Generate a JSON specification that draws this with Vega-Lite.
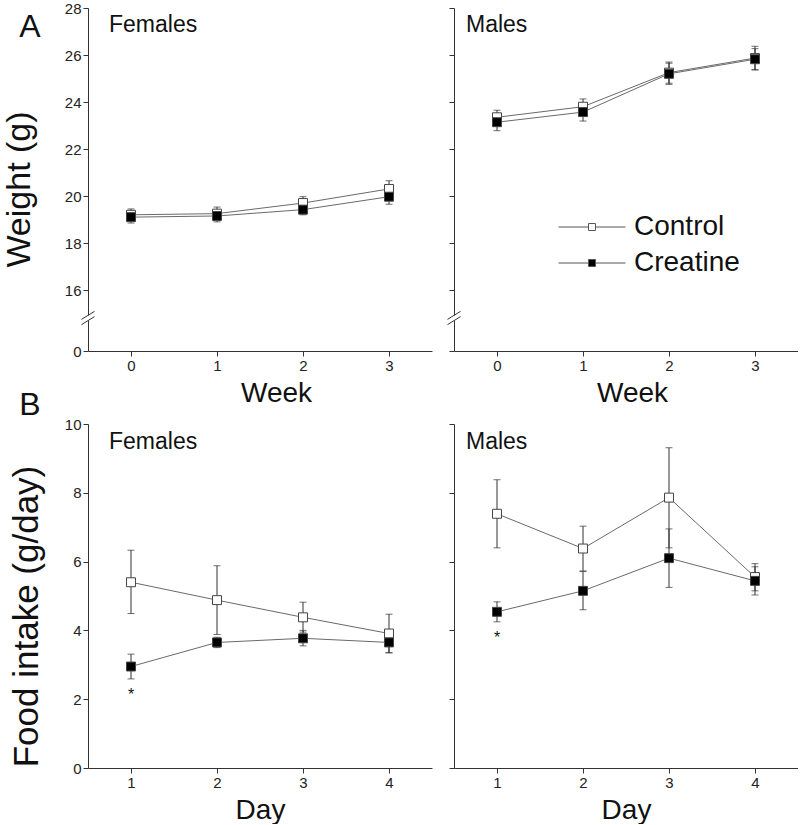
{
  "$schema": "https://vega.github.io/schema/vega-lite/v6.json",
  "padding": {"left": 2, "top": 1, "right": 0, "bottom": 0},
  "datasets": {
    "w": [
      {"sex": "Females", "group": "Control", "t": 0, "m": 19.2, "lo": 18.95, "hi": 19.45},
      {"sex": "Females", "group": "Control", "t": 1, "m": 19.25, "lo": 18.97, "hi": 19.53},
      {"sex": "Females", "group": "Control", "t": 2, "m": 19.7, "lo": 19.43, "hi": 19.97},
      {"sex": "Females", "group": "Control", "t": 3, "m": 20.3, "lo": 19.95, "hi": 20.65},
      {"sex": "Females", "group": "Creatine", "t": 0, "m": 19.1, "lo": 18.85, "hi": 19.35},
      {"sex": "Females", "group": "Creatine", "t": 1, "m": 19.15, "lo": 18.9, "hi": 19.4},
      {"sex": "Females", "group": "Creatine", "t": 2, "m": 19.42, "lo": 19.2, "hi": 19.64},
      {"sex": "Females", "group": "Creatine", "t": 3, "m": 19.97, "lo": 19.65, "hi": 20.29},
      {"sex": "Males", "group": "Control", "t": 0, "m": 23.35, "lo": 23.05, "hi": 23.65},
      {"sex": "Males", "group": "Control", "t": 1, "m": 23.8, "lo": 23.47, "hi": 24.13},
      {"sex": "Males", "group": "Control", "t": 2, "m": 25.25, "lo": 24.8, "hi": 25.7},
      {"sex": "Males", "group": "Control", "t": 3, "m": 25.87, "lo": 25.37, "hi": 26.37},
      {"sex": "Males", "group": "Creatine", "t": 0, "m": 23.14, "lo": 22.78, "hi": 23.5},
      {"sex": "Males", "group": "Creatine", "t": 1, "m": 23.57, "lo": 23.19, "hi": 23.95},
      {"sex": "Males", "group": "Creatine", "t": 2, "m": 25.2, "lo": 24.75, "hi": 25.65},
      {"sex": "Males", "group": "Creatine", "t": 3, "m": 25.82, "lo": 25.37, "hi": 26.27}
    ],
    "f": [
      {"sex": "Females", "group": "Control", "t": 1, "m": 5.4, "lo": 4.49, "hi": 6.33},
      {"sex": "Females", "group": "Control", "t": 2, "m": 4.88, "lo": 3.88, "hi": 5.88},
      {"sex": "Females", "group": "Control", "t": 3, "m": 4.38, "lo": 3.95, "hi": 4.82},
      {"sex": "Females", "group": "Control", "t": 4, "m": 3.91, "lo": 3.35, "hi": 4.47},
      {"sex": "Females", "group": "Creatine", "t": 1, "m": 2.95, "lo": 2.59, "hi": 3.31},
      {"sex": "Females", "group": "Creatine", "t": 2, "m": 3.65, "lo": 3.5, "hi": 3.8},
      {"sex": "Females", "group": "Creatine", "t": 3, "m": 3.77, "lo": 3.55, "hi": 4.0},
      {"sex": "Females", "group": "Creatine", "t": 4, "m": 3.65, "lo": 3.35, "hi": 3.85},
      {"sex": "Males", "group": "Control", "t": 1, "m": 7.39, "lo": 6.4, "hi": 8.38},
      {"sex": "Males", "group": "Control", "t": 2, "m": 6.38, "lo": 5.73, "hi": 7.03},
      {"sex": "Males", "group": "Control", "t": 3, "m": 7.86, "lo": 6.4, "hi": 9.31},
      {"sex": "Males", "group": "Control", "t": 4, "m": 5.55, "lo": 5.15, "hi": 5.94},
      {"sex": "Males", "group": "Creatine", "t": 1, "m": 4.54, "lo": 4.25, "hi": 4.83},
      {"sex": "Males", "group": "Creatine", "t": 2, "m": 5.15, "lo": 4.6, "hi": 5.71},
      {"sex": "Males", "group": "Creatine", "t": 3, "m": 6.1, "lo": 5.25, "hi": 6.95},
      {"sex": "Males", "group": "Creatine", "t": 4, "m": 5.44, "lo": 5.03, "hi": 5.85}
    ],
    "stars": [
      {"sex": "Females", "t": 1, "y": 1.97, "label": "*"},
      {"sex": "Males", "t": 1, "y": 3.62, "label": "*"}
    ]
  },
  "columns": 2,
  "spacing": {"row": 73, "column": 22},
  "bounds": "flush",
  "concat": [
    {
      "width": 344, "height": 343,
      "layer": [
        {"data": {"name": "w"}, "transform": [{"filter": "datum.sex === 'Females'"}],
         "mark": {"type": "line", "color": "#6a6a6a", "strokeWidth": 1},
         "encoding": {
           "x": {"field": "t", "type": "quantitative", "title": "Week", "scale": {"domain": [-0.5, 3.5], "nice": false, "zero": false},
                 "axis": {"values": [0, 1, 2, 3], "format": "d", "titleFontSize": 28, "titleX": 188, "titlePadding": 6}},
           "y": {"field": "m", "type": "quantitative", "title": "Weight (g)", "scale": {"domain": [0, 15, 28], "range": [343, 305.5, 0], "nice": false, "zero": false},
                 "axis": {"values": [0, 16, 18, 20, 22, 24, 26, 28], "titleFontSize": 34, "titlePadding": 28, "titleY": 181}},
           "detail": {"field": "group"}}},
        {"data": {"name": "w"}, "transform": [{"filter": "datum.sex === 'Females'"}],
         "mark": {"type": "errorbar", "ticks": {"size": 7}, "color": "#333", "thickness": 1},
         "encoding": {
           "x": {"field": "t", "type": "quantitative", "title": "Week"},
           "y": {"field": "lo", "type": "quantitative", "title": "Weight (g)"},
           "y2": {"field": "hi"}}},
        {"data": {"name": "w"}, "transform": [{"filter": "datum.sex === 'Females'"}],
         "mark": {"type": "point", "shape": "square", "size": 80, "filled": true, "opacity": 1, "stroke": "#444", "strokeWidth": 1},
         "encoding": {
           "x": {"field": "t", "type": "quantitative", "title": "Week"},
           "y": {"field": "m", "type": "quantitative", "title": "Weight (g)"},
           "fill": {"field": "group", "type": "nominal", "scale": {"domain": ["Control", "Creatine"], "range": ["white", "black"]}}}},
        {"data": {"values": [{}]},
         "mark": {"type": "point", "shape": "square", "size": 25, "filled": true, "color": "white", "opacity": 1, "strokeWidth": 0},
         "encoding": {"x": {"datum": -0.5, "type": "quantitative"}, "y": {"datum": 13.2, "type": "quantitative"}}},
        {"data": {"values": [{}]},
         "mark": {"type": "point", "shape": "M-0.93,0.2L0.93,-0.95M-0.93,0.95L0.93,-0.2", "size": 196, "filled": false, "stroke": "#333", "strokeWidth": 1, "opacity": 1},
         "encoding": {"x": {"datum": -0.5, "type": "quantitative"}, "y": {"datum": 13.2, "type": "quantitative"}}},
        {"data": {"values": [{}]},
         "mark": {"type": "text", "text": "Females", "fontSize": 23, "align": "left", "baseline": "middle", "dx": 21, "dy": 17, "color": "#111"},
         "encoding": {"x": {"datum": -0.5, "type": "quantitative"}, "y": {"datum": 28, "type": "quantitative"}}},
        {"data": {"values": [{}]},
         "mark": {"type": "text", "text": "A", "fontSize": 32, "align": "center", "baseline": "middle", "dx": -58, "dy": 19, "color": "#111"},
         "encoding": {"x": {"datum": -0.5, "type": "quantitative"}, "y": {"datum": 28, "type": "quantitative"}}}
      ]
    },
    {
      "width": 344, "height": 343,
      "layer": [
        {"data": {"name": "w"}, "transform": [{"filter": "datum.sex === 'Males'"}],
         "mark": {"type": "line", "color": "#6a6a6a", "strokeWidth": 1},
         "encoding": {
           "x": {"field": "t", "type": "quantitative", "title": "Week", "scale": {"domain": [-0.5, 3.5], "nice": false, "zero": false},
                 "axis": {"values": [0, 1, 2, 3], "format": "d", "titleFontSize": 28, "titleX": 178, "titlePadding": 6}},
           "y": {"field": "m", "type": "quantitative", "title": null, "scale": {"domain": [0, 15, 28], "range": [343, 305.5, 0], "nice": false, "zero": false},
                 "axis": {"values": [0, 16, 18, 20, 22, 24, 26, 28], "labels": false}},
           "detail": {"field": "group"}}},
        {"data": {"name": "w"}, "transform": [{"filter": "datum.sex === 'Males'"}],
         "mark": {"type": "errorbar", "ticks": {"size": 7}, "color": "#333", "thickness": 1},
         "encoding": {
           "x": {"field": "t", "type": "quantitative", "title": "Week"},
           "y": {"field": "lo", "type": "quantitative", "title": null},
           "y2": {"field": "hi"}}},
        {"data": {"name": "w"}, "transform": [{"filter": "datum.sex === 'Males'"}],
         "mark": {"type": "point", "shape": "square", "size": 80, "filled": true, "opacity": 1, "stroke": "#444", "strokeWidth": 1},
         "encoding": {
           "x": {"field": "t", "type": "quantitative", "title": "Week"},
           "y": {"field": "m", "type": "quantitative", "title": null},
           "fill": {"field": "group", "type": "nominal", "scale": {"domain": ["Control", "Creatine"], "range": ["white", "black"]}}}},
        {"data": {"values": [{}]},
         "mark": {"type": "point", "shape": "square", "size": 25, "filled": true, "color": "white", "opacity": 1, "strokeWidth": 0},
         "encoding": {"x": {"datum": -0.5, "type": "quantitative"}, "y": {"datum": 13.2, "type": "quantitative"}}},
        {"data": {"values": [{}]},
         "mark": {"type": "point", "shape": "M-0.93,0.2L0.93,-0.95M-0.93,0.95L0.93,-0.2", "size": 196, "filled": false, "stroke": "#333", "strokeWidth": 1, "opacity": 1},
         "encoding": {"x": {"datum": -0.5, "type": "quantitative"}, "y": {"datum": 13.2, "type": "quantitative"}}},
        {"data": {"values": [{}]},
         "mark": {"type": "text", "text": "Males", "fontSize": 23, "align": "left", "baseline": "middle", "dx": 12, "dy": 17, "color": "#111"},
         "encoding": {"x": {"datum": -0.5, "type": "quantitative"}, "y": {"datum": 28, "type": "quantitative"}}}
      ]
    },
    {
      "width": 344, "height": 344,
      "layer": [
        {"data": {"name": "f"}, "transform": [{"filter": "datum.sex === 'Females'"}],
         "mark": {"type": "line", "color": "#6a6a6a", "strokeWidth": 1},
         "encoding": {
           "x": {"field": "t", "type": "quantitative", "title": "Day", "scale": {"domain": [0.5, 4.5], "nice": false, "zero": false},
                 "axis": {"values": [1, 2, 3, 4], "format": "d", "titleFontSize": 28, "titlePadding": 6}},
           "y": {"field": "m", "type": "quantitative", "title": "Food intake (g/day)", "scale": {"domain": [0, 10], "nice": false, "zero": false},
                 "axis": {"values": [0, 2, 4, 6, 8, 10], "format": "d", "titleFontSize": 35, "titlePadding": 20, "titleY": 192}},
           "detail": {"field": "group"}}},
        {"data": {"name": "f"}, "transform": [{"filter": "datum.sex === 'Females'"}],
         "mark": {"type": "errorbar", "ticks": {"size": 7}, "color": "#333", "thickness": 1},
         "encoding": {
           "x": {"field": "t", "type": "quantitative", "title": "Day"},
           "y": {"field": "lo", "type": "quantitative", "title": "Food intake (g/day)"},
           "y2": {"field": "hi"}}},
        {"data": {"name": "f"}, "transform": [{"filter": "datum.sex === 'Females'"}],
         "mark": {"type": "point", "shape": "square", "size": 80, "filled": true, "opacity": 1, "stroke": "#444", "strokeWidth": 1},
         "encoding": {
           "x": {"field": "t", "type": "quantitative", "title": "Day"},
           "y": {"field": "m", "type": "quantitative", "title": "Food intake (g/day)"},
           "fill": {"field": "group", "type": "nominal", "scale": {"domain": ["Control", "Creatine"], "range": ["white", "black"]}}}},
        {"data": {"name": "stars"}, "transform": [{"filter": "datum.sex === 'Females'"}],
         "mark": {"type": "text", "fontSize": 16, "align": "center", "baseline": "alphabetic", "color": "#111"},
         "encoding": {"x": {"field": "t", "type": "quantitative", "title": "Day"}, "y": {"field": "y", "type": "quantitative", "title": "Food intake (g/day)"}, "text": {"field": "label"}}},
        {"data": {"values": [{}]},
         "mark": {"type": "text", "text": "Females", "fontSize": 23, "align": "left", "baseline": "middle", "dx": 21, "dy": 18, "color": "#111"},
         "encoding": {"x": {"datum": 0.5, "type": "quantitative"}, "y": {"datum": 10, "type": "quantitative"}}},
        {"data": {"values": [{}]},
         "mark": {"type": "text", "text": "B", "fontSize": 32, "align": "center", "baseline": "middle", "dx": -58, "dy": -19, "color": "#111"},
         "encoding": {"x": {"datum": 0.5, "type": "quantitative"}, "y": {"datum": 10, "type": "quantitative"}}}
      ]
    },
    {
      "width": 344, "height": 344,
      "layer": [
        {"data": {"name": "f"}, "transform": [{"filter": "datum.sex === 'Males'"}],
         "mark": {"type": "line", "color": "#6a6a6a", "strokeWidth": 1},
         "encoding": {
           "x": {"field": "t", "type": "quantitative", "title": "Day", "scale": {"domain": [0.5, 4.5], "nice": false, "zero": false},
                 "axis": {"values": [1, 2, 3, 4], "format": "d", "titleFontSize": 28, "titlePadding": 6}},
           "y": {"field": "m", "type": "quantitative", "title": null, "scale": {"domain": [0, 10], "nice": false, "zero": false},
                 "axis": {"values": [0, 2, 4, 6, 8, 10], "labels": false}},
           "detail": {"field": "group"}}},
        {"data": {"name": "f"}, "transform": [{"filter": "datum.sex === 'Males'"}],
         "mark": {"type": "errorbar", "ticks": {"size": 7}, "color": "#333", "thickness": 1},
         "encoding": {
           "x": {"field": "t", "type": "quantitative", "title": "Day"},
           "y": {"field": "lo", "type": "quantitative", "title": null},
           "y2": {"field": "hi"}}},
        {"data": {"name": "f"}, "transform": [{"filter": "datum.sex === 'Males'"}],
         "mark": {"type": "point", "shape": "square", "size": 80, "filled": true, "opacity": 1, "stroke": "#444", "strokeWidth": 1},
         "encoding": {
           "x": {"field": "t", "type": "quantitative", "title": "Day"},
           "y": {"field": "m", "type": "quantitative", "title": null},
           "fill": {"field": "group", "type": "nominal", "scale": {"domain": ["Control", "Creatine"], "range": ["white", "black"]}}}},
        {"data": {"name": "stars"}, "transform": [{"filter": "datum.sex === 'Males'"}],
         "mark": {"type": "text", "fontSize": 16, "align": "center", "baseline": "alphabetic", "color": "#111"},
         "encoding": {"x": {"field": "t", "type": "quantitative", "title": "Day"}, "y": {"field": "y", "type": "quantitative", "title": null}, "text": {"field": "label"}}},
        {"data": {"values": [{}]},
         "mark": {"type": "text", "text": "Males", "fontSize": 23, "align": "left", "baseline": "middle", "dx": 12, "dy": 18, "color": "#111"},
         "encoding": {"x": {"datum": 0.5, "type": "quantitative"}, "y": {"datum": 10, "type": "quantitative"}}}
      ]
    }
  ],
  "config": {
    "font": "Liberation Sans",
    "view": {"stroke": null},
    "legend": {"orient": "none", "legendX": 490, "legendY": 205, "title": null,
               "symbolType": "M-2.79,0H-0.29M0.29,0H2.79M-0.29,-0.29H0.29V0.29H-0.29Z",
               "symbolSize": 576, "symbolStrokeColor": "#555", "symbolStrokeWidth": 1,
               "labelFontSize": 28, "labelOffset": 28, "rowPadding": 8, "labelColor": "#111", "labelFont": "Liberation Sans"},
    "axis": {"grid": false, "domainColor": "#333", "tickColor": "#333", "labelColor": "#222", "titleColor": "#111",
             "labelFontSize": 15, "titleFontWeight": "normal", "tickSize": 5, "labelPadding": 2, "domainWidth": 1, "tickWidth": 1}
  }
}
